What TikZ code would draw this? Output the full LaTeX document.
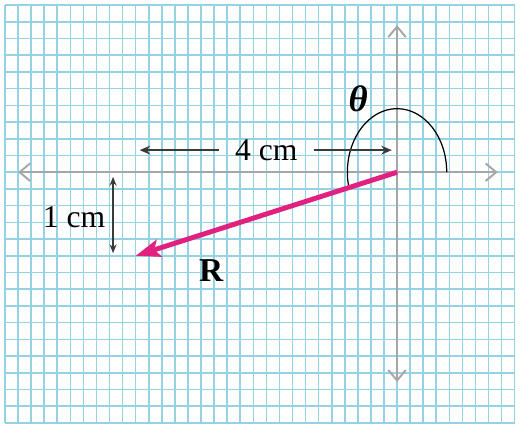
\documentclass[tikz,border=0pt]{standalone}
\usepackage{fontspec}
\setmainfont{Liberation Serif}
\usepackage{tikz}
\usetikzlibrary{positioning, arrows.meta}
\definecolor{gridBlue}{HTML}{93D3E4}
\definecolor{axisGray}{HTML}{A6A6A6}
\definecolor{dimGray}{HTML}{3A3A3A}
\definecolor{vecMagenta}{HTML}{E2207F}
\tikzset{
  gridline/.style={draw=gridBlue, line width=0.9pt},
  axisline/.style={draw=axisGray, line width=1.1pt,
    {Straight Barb[length=6pt,width=10pt]}-{Straight Barb[length=6pt,width=10pt]}},
  dimline/.style={draw=dimGray, line width=1.1pt, -{Stealth[length=6pt,width=5pt]}},
  dimboth/.style={draw=dimGray, line width=0.7pt,
    {Stealth[length=5pt,width=4pt]}-{Stealth[length=5pt,width=4pt]}},
  vecline/.style={draw=vecMagenta, line width=2.8pt,
    -{Stealth[length=14pt,width=10pt,inset=3pt]}},
  anglearc/.style={draw=black, line width=0.7pt},
  lbl/.style={font=\fontsize{18}{20}\selectfont, inner sep=1pt}
}

\begin{document}
\begin{tikzpicture}[x=0.2614cm, y=0.3344cm]
    \useasboundingbox[fill=white] (-30.383,-15.3) rectangle (9.79,10.3);
    % ---- graph paper ----
    \foreach \gx in {-30,...,9}
      \draw[gridline] (\gx,-15) -- (\gx,10);
    \foreach \gy in {-15,...,10}
      \draw[gridline] (-30,\gy) -- (9,\gy);
    % ---- axes ----
    \coordinate (O) at (0,0);
    \coordinate (xneg) at (-29,0);
    \coordinate (xpos) at (7.7,0);
    \coordinate (yneg) at (0,-12.55);
    \coordinate (ypos) at (0,8.8);
    \draw[axisline] (xneg) -- (xpos);
    \draw[axisline] (yneg) -- (ypos);
    % ---- angle theta ----
    \draw[anglearc] (O) ++(0:3.8) arc[start angle=0, end angle=194.04, radius=3.8];
    \node[lbl, font=\fontsize{21}{24}\selectfont\bfseries\itshape] (thetalbl) at (-2.98,4.37) {θ};
    % ---- vector R ----
    \coordinate (Rtip) at (-20,-5);
    \draw[vecline] (O) -- (Rtip);
    \node[lbl, font=\fontsize{19}{22}\selectfont\bfseries] (Rlbl) at (-14.23,-5.86) {R};
    % ---- 4 cm ----
    \node[lbl, inner xsep=9pt] (lenlbl) at (-10,1.32) {4 cm};
    \coordinate (lenL) at (-19.7,1.32);
    \coordinate (lenR) at (-0.4,1.32);
    \draw[dimline] (lenlbl.west) -- (lenL);
    \draw[dimline] (lenlbl.east) -- (lenR);
    % ---- 1 cm ----
    \coordinate (htTop) at (-21.73,-0.28);
    \coordinate (htBot) at (-21.73,-4.84);
    \draw[dimboth] (htTop) -- (htBot);
    \node[lbl] (htlbl) at (-24.71,-2.69) {1 cm};
\end{tikzpicture}
\end{document}
